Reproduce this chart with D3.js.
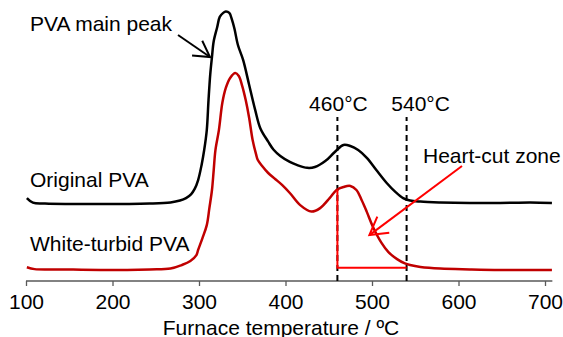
<!DOCTYPE html>
<html>
<head>
<meta charset="utf-8">
<script src="https://cdn.jsdelivr.net/npm/d3@7"></script>
<style>
	body { margin: 0; background: #fff; }
	svg { display: block; font-family: "Liberation Sans", Arial, sans-serif; }
</style>
</head>
<body>
<svg></svg>
<script>
// ===================== DATA =====================
// furnace temperature (ºC) and signal (peak ~ 100)
const originalTemp = [101, 108, 122, 186, 243, 267, 278, 285, 291, 295, 299, 303, 306, 309, 311, 313, 315, 317, 321, 324, 328, 331, 335, 338, 341, 345, 351, 358, 365, 371, 380, 386, 394, 405, 413, 425, 434, 446, 457, 467, 475, 484, 494, 505, 517, 527, 536, 544, 556, 579, 613, 648, 683, 708];
const originalVal = [30.7, 29.0, 28.7, 28.5, 28.7, 29.1, 29.8, 30.7, 32.2, 34.1, 37.4, 43.0, 48.5, 55.9, 67.0, 76.5, 83.0, 88.8, 94.0, 97.8, 99.3, 99.8, 99.3, 96.9, 93.4, 87.4, 81.9, 72.6, 63.3, 56.5, 51.6, 48.7, 46.3, 44.1, 43.0, 41.9, 42.2, 44.4, 47.8, 50.4, 50.0, 48.5, 45.6, 41.1, 36.3, 33.0, 30.7, 29.8, 29.4, 29.1, 28.9, 28.9, 29.1, 28.9];

const turbidTemp = [101, 110, 139, 186, 243, 267, 280, 290, 297, 299, 304, 309, 312, 315, 317, 319, 323, 327, 331, 336, 342, 346, 350, 354, 358, 362, 366, 368, 373, 380, 388, 396, 405, 417, 430, 440, 451, 459, 467, 475, 482, 488, 494, 501, 511, 519, 529, 538, 544, 556, 579, 613, 648, 708];
const turbidVal = [5.1, 4.4, 4.3, 4.1, 4.3, 4.6, 5.9, 7.4, 9.6, 11.5, 15.9, 20.7, 27.0, 33.7, 41.1, 48.5, 55.9, 66.0, 71.5, 75.2, 77.0, 75.9, 72.2, 67.0, 60.4, 52.2, 46.9, 44.8, 42.6, 40.0, 37.8, 35.6, 32.6, 28.1, 25.7, 27.0, 30.7, 33.7, 34.8, 35.2, 33.7, 30.0, 25.6, 20.1, 14.1, 10.7, 8.1, 6.5, 5.9, 5.2, 4.6, 4.3, 4.1, 4.1];

const xTicks = [100, 200, 300, 400, 500, 600, 700];
const cutTemps = [460, 540];
const cutLabels = ["460°C", "540°C"];
const cutBase = 4.9;

// ===================== CHART =====================
const width = 563;
const height = 337;

const svg = d3.select("svg").attr("width", width).attr("height", height);

const x = d3.scaleLinear().domain([100, 700]).range([26, 545]);
const y = d3.scaleLinear().domain([0, 100]).range([281, 11]);

const original = originalTemp.map((t, i) => ({ t: t, v: originalVal[i] }));
const turbid = turbidTemp.map((t, i) => ({ t: t, v: turbidVal[i] }));

const line = d3
	.line()
	.x((d) => x(d.t))
	.y((d) => y(d.v))
	.curve(d3.curveCatmullRom.alpha(0.5));

// x axis
const axis = svg
	.append("g")
	.attr("transform", `translate(0,${y(0)})`)
	.call(d3.axisBottom(x).tickValues(xTicks).tickSize(5).tickPadding(8).tickFormat(d3.format("d")));
axis.select(".domain").attr("d", `M${x(100)},0H${x(708.5)}`).attr("stroke", "#595959").attr("stroke-width", 1.3);
axis.selectAll(".tick line").attr("stroke", "#595959").attr("stroke-width", 1.3);
axis.selectAll(".tick text").attr("font-size", 21).attr("font-family", "Liberation Sans, Arial, sans-serif").attr("fill", "#000");

svg.append("text")
	.attr("x", 281)
	.attr("y", 335)
	.attr("text-anchor", "middle")
	.attr("font-size", 21)
	.text("Furnace temperature / ºC");

// dashed cut lines
svg.selectAll(".cut")
	.data(cutTemps)
	.enter()
	.append("line")
	.attr("class", "cut")
	.attr("x1", (d) => x(d))
	.attr("x2", (d) => x(d))
	.attr("y1", y(0))
	.attr("y2", y(60.7))
	.attr("stroke", "#000")
	.attr("stroke-width", 2)
	.attr("stroke-dasharray", "6,4");

svg.selectAll(".cutLabel")
	.data(cutTemps)
	.enter()
	.append("text")
	.attr("class", "cutLabel")
	.attr("x", (d, i) => x(d) + (i == 0 ? 1 : 14))
	.attr("y", 111)
	.attr("text-anchor", "middle")
	.attr("font-size", 21)
	.text((d, i) => cutLabels[i]);

// curves
svg.append("path").datum(original).attr("d", line).attr("fill", "none").attr("stroke", "#000").attr("stroke-width", 2.5);
svg.append("path").datum(turbid).attr("d", line).attr("fill", "none").attr("stroke", "#c00000").attr("stroke-width", 2.5);

// heart-cut bracket
const bisect = d3.bisector((d) => d.t).left;
const i460 = bisect(turbid, cutTemps[0]);
const a = turbid[i460 - 1];
const b = turbid[i460];
const vTop = a.v + ((b.v - a.v) * (cutTemps[0] - a.t)) / (b.t - a.t);

svg.append("path")
	.attr("d", `M${x(cutTemps[0])},${y(vTop)}V${y(cutBase)}H${x(cutTemps[1])}`)
	.attr("fill", "none")
	.attr("stroke", "#ff0000")
	.attr("stroke-width", 2);

// labels
const labels = [
	{ text: "PVA main peak", x: 30, y: 31 },
	{ text: "Original PVA", x: 30, y: 187 },
	{ text: "White-turbid PVA", x: 30, y: 251 },
	{ text: "Heart-cut zone", x: 423, y: 163 },
];
svg.selectAll(".label")
	.data(labels)
	.enter()
	.append("text")
	.attr("class", "label")
	.attr("x", (d) => d.x)
	.attr("y", (d) => d.y)
	.attr("font-size", 21)
	.text((d) => d.text);

// arrows with open heads
function arrow(x1, y1, x2, y2, color, head, w) {
	const ang = Math.atan2(y1 - y2, x1 - x2);
	const spread = Math.PI / 6;
	const g = svg.append("g").attr("stroke", color).attr("stroke-width", w).attr("fill", "none");
	g.append("line").attr("x1", x1).attr("y1", y1).attr("x2", x2).attr("y2", y2);
	g.append("path").attr(
		"d",
		`M${x2 + head * Math.cos(ang - spread)},${y2 + head * Math.sin(ang - spread)}L${x2},${y2}L${x2 + head * Math.cos(ang + spread)},${y2 + head * Math.sin(ang + spread)}`
	);
}

arrow(178, 35, 210, 57, "#000", 18, 2);
arrow(462, 166, x(497), y(17), "#ff0000", 20, 2);
</script>
</body>
</html>
